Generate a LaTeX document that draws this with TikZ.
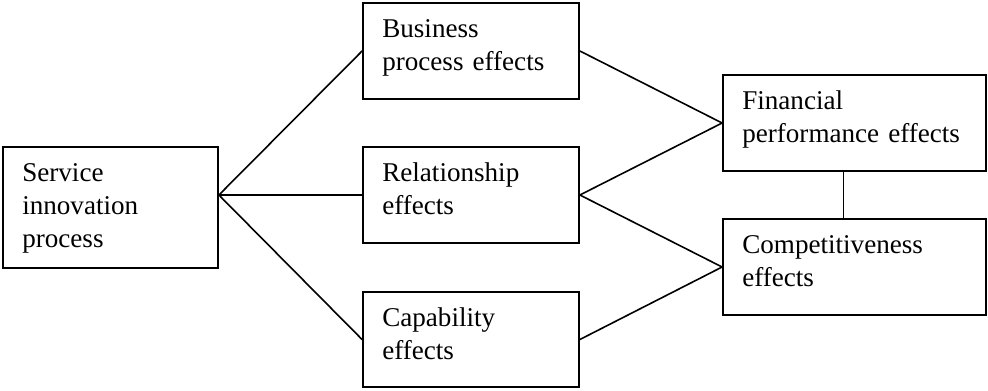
\documentclass[tikz,border=0pt]{standalone}
\usepackage{fontspec}
\setmainfont{Liberation Serif}
\usetikzlibrary{calc}
\begin{document}
\begin{tikzpicture}[x=1bp,y=-1bp,
  box/.style={draw, line width=1.8bp, inner sep=0pt, minimum height=96bp, minimum width=216bp},
  txt/.style={anchor=base west, inner sep=0pt, align=left, text width=250bp,
    font=\fontsize{27.2pt}{33.2pt}\selectfont},
  conn/.style={line width=1.6bp}]
\fill[white] (0,0) rectangle (988,390);
\useasboundingbox (0,0) rectangle (988,390);
% boxes
\node[box, minimum width=215bp, minimum height=121bp] (S) at (110.5,207.5) {};
\node[box] (B) at (471,51) {};
\node[box] (R) at (471,195) {};
\node[box, minimum height=95bp] (C) at (471,339.5) {};
\node[box, minimum width=263bp] (F) at (854.5,123) {};
\node[box, minimum width=263bp] (K) at (854.5,267) {};
% texts
\node[txt] (St) at ($(S.north west)+(20,35)$) {Service\\innovation\\process};
\node[txt] (Bt) at ($(B.north west)+(20,35)$) {Business\\process effects};
\node[txt] (Rt) at ($(R.north west)+(20,35)$) {Relationship\\effects};
\node[txt] (Ct) at ($(C.north west)+(20,35)$) {Capability\\effects};
\node[txt] (Ft) at ($(F.north west)+(20,35)$) {Financial\\performance effects};
\node[txt] (Kt) at ($(K.north west)+(20,35)$) {Competitiveness\\effects};
% connectors
\coordinate (s) at ($(S.east)+(0,-12.5)$);
\draw[conn] (s) -- (B.west);
\draw[conn] (s) -- (R.west);
\draw[conn] (s) -- (C.west);
\draw[conn] (B.east) -- (F.west);
\draw[conn] (R.east) -- (F.west);
\draw[conn] (R.east) -- (K.west);
\draw[conn] (C.east) -- (K.west);
\coordinate (fk1) at ($(F.south)+(-11,0)$);
\coordinate (fk2) at ($(K.north)+(-11,0)$);
\draw[conn] (fk1) -- (fk2);
\end{tikzpicture}
\end{document}
